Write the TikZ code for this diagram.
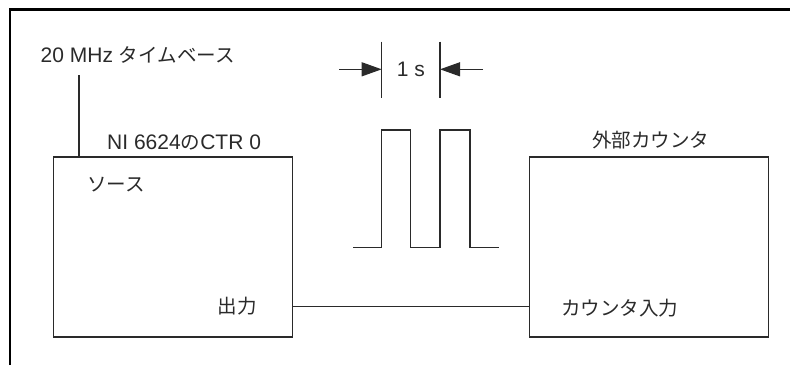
\documentclass[tikz,border=0pt]{standalone}
\usepackage{fontspec}
\setmainfont{Liberation Sans}
\newfontfamily\jp{Noto Sans CJK JP}[Scale=0.93]
\usetikzlibrary{arrows.meta}
\definecolor{ink}{HTML}{2A2A2A}
\begin{document}
\begin{tikzpicture}[x=1pt,y=-1pt,
  lbl/.style={inner sep=0pt,anchor=west,text=ink,font=\fontsize{21}{24}\selectfont},
  blk/.style={draw=ink,line width=1.1pt,minimum width=239.5pt,minimum height=180pt,inner sep=0pt},
  wire/.style={draw=ink,line width=1.1pt},
  dimarrow/.style={wire,-{Triangle[length=20pt,width=14pt]}}]
\useasboundingbox (0,0) rectangle (790,365);
% outer frame (top and left edges only)
\draw[line width=2.6pt,black] (10,365) -- (10,9.5) -- (790,9.5);
% blocks
\node[blk] (ni) at (173,247) {};
\node[blk] (ext) at (648.8,247) {};
% labels
\node[lbl] (tb) at (40.5,55) {20 MHz {\jp タイムベース}};
\node[lbl] (nilbl) at (107,142) {NI 6624{\jp の}CTR 0};
\node[lbl] (src) at (87,185) {\jp ソース};
\node[lbl] (out) at (217.5,306.5) {\jp 出力};
\node[lbl] (extlbl) at (592,140) {\jp 外部カウンタ};
\node[lbl] (cin) at (561,308) {\jp カウンタ入力};
% connectors
\coordinate (tbfoot) at (79,75);
\draw[wire] (tbfoot) -- (tbfoot |- ni.north);
\draw[wire] (ni.east |- out) -- (ext.west |- out);
% pulse train
\draw[wire] (353.3,247.7) -- (381.7,247.7) -- (381.7,130) -- (410.7,130) -- (410.7,247.7)
  -- (440,247.7) -- (440,130) -- (470,130) -- (470,247.7) -- (499,247.7);
% dimension
\coordinate (d1) at (381.7,41.7);
\coordinate (d2) at (440,41.7);
\draw[wire] (d1) -- ++(0,56.6);
\draw[wire] (d2) -- ++(0,56.6);
\node[lbl,anchor=center] (onesec) at (410.8,69.3) {1 s};
\coordinate (la) at (339,69.3);
\coordinate (ra) at (483,69.3);
\draw[dimarrow] (la) -- (la -| d1);
\draw[dimarrow] (ra) -- (ra -| d2);
\end{tikzpicture}
\end{document}
